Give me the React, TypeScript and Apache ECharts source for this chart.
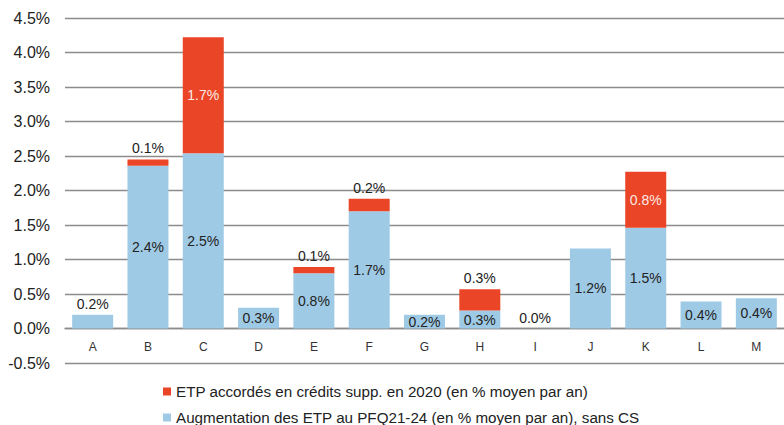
import React, { useEffect, useRef } from "react";
import * as echarts from "echarts";

const categories = ["A", "B", "C", "D", "E", "F", "G", "H", "I", "J", "K", "L", "M"];
const pfqValues = [0.2, 2.36, 2.54, 0.3, 0.8, 1.7, 0.2, 0.26, 0.0, 1.16, 1.46, 0.39, 0.44];
const creditValues: (number | null)[] = [null, 0.09, 1.68, null, 0.09, 0.18, null, 0.31, null, null, 0.81, null, null];
// label placement per bar (as in the reference)
const pfqLabelTop = [true, false, false, false, false, false, false, false, true, false, false, false, false];
const creditLabelInside = [false, false, true, false, false, false, false, false, false, false, true, false, false];

const seriesNames = [
  "ETP accordés en crédits supp. en 2020 (en % moyen par an)",
  "Augmentation des ETP au PFQ21-24 (en % moyen par an), sans CS",
];

const RED = "#EA4526";
const BLUE = "#9FCAE5";
const FONT = "Liberation Sans, Arial, sans-serif";

export default function App() {
  const ref = useRef<HTMLDivElement>(null);
  useEffect(() => {
    document.body.style.margin = "0";
    if (!ref.current) return;
    const chart = echarts.init(ref.current, null, { renderer: "svg" });
    const fmt = (p: any) => (p.value == null ? "" : Number(p.value).toFixed(1) + "%");
    const legendBase = {
      orient: "vertical",
      left: 163,
      itemWidth: 8,
      itemHeight: 8,
      icon: "rect",
      padding: 0,
      textStyle: { fontFamily: FONT, fontSize: 15.2, color: "#222" },
    };
    chart.setOption({
      animation: false,
      textStyle: { fontFamily: FONT },
      grid: { left: 65, right: 0, top: 18, bottom: 62, containLabel: false },
      legend: [
        { ...legendBase, top: 384, data: [seriesNames[0]] },
        { ...legendBase, top: 410, data: [seriesNames[1]] },
      ],
      xAxis: {
        type: "category",
        data: categories,
        position: "bottom",
        offset: -34.5,
        axisTick: { show: false },
        axisLine: { onZero: false, lineStyle: { color: "#8c8c8c", width: 1.3 } },
        axisLabel: { margin: 12, fontSize: 12, color: "#333", fontFamily: FONT },
      },
      yAxis: {
        type: "value",
        min: -0.5,
        max: 4.5,
        interval: 0.5,
        axisLine: { show: false },
        axisTick: { show: false },
        splitLine: { lineStyle: { color: "#8c8c8c", width: 1.3 } },
        axisLabel: {
          margin: 15,
          fontSize: 16,
          color: "#222",
          fontFamily: FONT,
          formatter: (v: number) => v.toFixed(1) + "%",
        },
      },
      series: [
        {
          name: seriesNames[1],
          type: "bar",
          stack: "total",
          barWidth: 41,
          itemStyle: { color: BLUE },
          data: pfqValues.map((v, i) => ({
            value: v,
            label: {
              show: true,
              position: pfqLabelTop[i] ? "top" : "inside",
              distance: 4,
              formatter: fmt,
              fontSize: 14,
              color: "#222",
              fontFamily: FONT,
            },
          })),
        },
        {
          name: seriesNames[0],
          type: "bar",
          stack: "total",
          barWidth: 41,
          itemStyle: { color: RED },
          data: creditValues.map((v, i) => ({
            value: v,
            label: {
              show: v != null,
              position: creditLabelInside[i] ? "inside" : "top",
              distance: 4,
              formatter: fmt,
              fontSize: 14,
              color: creditLabelInside[i] ? "#fde9e4" : "#222",
              fontFamily: FONT,
            },
          })),
        },
      ],
    });
    return () => chart.dispose();
  }, []);
  return <div ref={ref} style={{ width: 784, height: 425 }} />;
}
